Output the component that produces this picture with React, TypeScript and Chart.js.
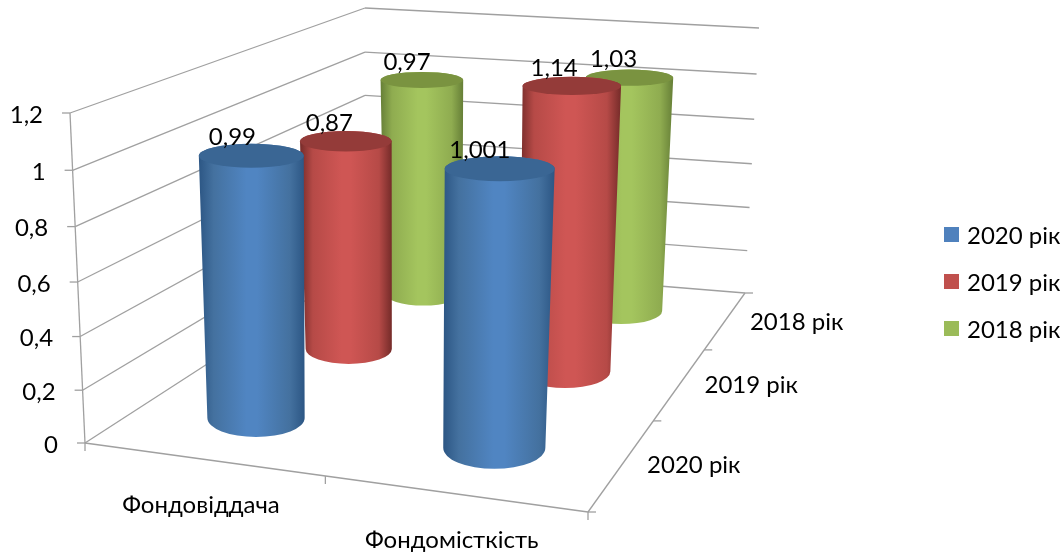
import React, { useEffect, useRef } from "react";
import { Chart, BarController, registerables } from "chart.js";

const categories = ["Фондовіддача", "Фондомісткість"];
const seriesNames = ["2020 рік", "2019 рік", "2018 рік"];
const values2020 = [0.99, 1.001];
const values2019 = [0.87, 1.14];
const values2018 = [0.97, 1.03];
const axisMax = 1.2;
const axisStep = 0.2;

type Pt = [number, number];
const FONT = "Lato, Carlito, 'Noto Sans', sans-serif";
const FS = 24;
const GRID = "#a0a0a0";
const palette = [
  { dark: "#2c5684", mid: "#44719f", light: "#5085c2", top: "#3a6694", legend: "#4f81bd" },
  { dark: "#752b29", mid: "#b64a47", light: "#cf5654", top: "#943b39", legend: "#c0504d" },
  { dark: "#667f37", mid: "#8fac50", light: "#a4c55e", top: "#7a9340", legend: "#9bbb59" },
];

function quad(p: Pt[]) {
  const [[x0, y0], [x1, y1], [x2, y2], [x3, y3]] = p;
  const sx = x0 - x1 + x2 - x3, sy = y0 - y1 + y2 - y3;
  const dx1 = x1 - x2, dx2 = x3 - x2, dy1 = y1 - y2, dy2 = y3 - y2;
  const det = dx1 * dy2 - dx2 * dy1;
  const g = (sx * dy2 - dx2 * sy) / det, h = (dx1 * sy - sx * dy1) / det;
  const a = x1 - x0 + g * x1, b = x3 - x0 + h * x3, d = y1 - y0 + g * y1, e = y3 - y0 + h * y3;
  return (u: number, v: number): Pt => {
    const w = g * u + h * v + 1;
    return [(a * u + b * v + x0) / w, (d * u + e * v + y0) / w];
  };
}
// room corners: front-left, front-right, back-right, back-left
const floor = quad([[85, 443], [588, 512], [745, 293], [365, 262]]);
const ceil = quad([[70, 113], [606, 141], [759, 28], [365, 8]]);
const project = (u: number, v: number, t: number): Pt => {
  const f = t / (t + 1.05 * (1 - t));
  const a = floor(u, v), b = ceil(u, v);
  return [a[0] + (b[0] - a[0]) * f, a[1] + (b[1] - a[1]) * f];
};
const RV = 0.078;
const depthOf = (i: number) => (i + 0.5) / 3;

function ring(u: number, v: number, ru: number, t: number) {
  let x0 = 1e9, x1 = -1e9, y0 = 1e9, y1 = -1e9;
  for (let i = 0; i < 48; i++) {
    const a = (i / 48) * Math.PI * 2;
    const p = project(u + ru * Math.cos(a), v + RV * Math.sin(a), t);
    x0 = Math.min(x0, p[0]); x1 = Math.max(x1, p[0]);
    y0 = Math.min(y0, p[1]); y1 = Math.max(y1, p[1]);
  }
  // cylinders stand a little more upright than the wall lines suggest
  const right = u - 0.25;
  const lean = 2 - t * (10 + 1.5 * right) + t * right * 2 * (8 * v - 3);
  const widen = 1 + 0.19 * t * right;
  return { cx: (x0 + x1) / 2 + lean, cy: (y0 + y1) / 2, sx: ((x1 - x0) / 2) * widen, sy: (y1 - y0) / 2 };
}

function cylinderGeom(chart: any, el: any, dsIndex: number) {
  const area = chart.chartArea;
  const u = (el.x - area.left) / area.width;
  const ru = el.width / 2 / area.width;
  const t = (el.base - el.y) / (el.base - area.top);
  const v = depthOf(dsIndex);
  return { bottom: ring(u, v, ru, 0), top: ring(u, v, ru, t) };
}

class CylinderController extends BarController {
  static id = "cylinder";
  static defaults = { ...BarController.defaults };
  static overrides = BarController.overrides;
  draw() {
    const chart: any = this.chart;
    const ctx = chart.ctx;
    const idx = this.index;
    const col = palette[idx];
    this.getMeta().data.forEach((el: any) => {
      const { bottom: b, top: t } = cylinderGeom(chart, el, idx);
      const g = ctx.createLinearGradient(Math.min(t.cx - t.sx, b.cx - b.sx), 0, Math.max(t.cx + t.sx, b.cx + b.sx), 0);
      g.addColorStop(0, col.dark);
      g.addColorStop(0.14, col.mid);
      g.addColorStop(0.45, col.light);
      g.addColorStop(0.55, col.light);
      g.addColorStop(0.86, col.mid);
      g.addColorStop(1, col.dark);
      ctx.save();
      ctx.beginPath();
      ctx.moveTo(t.cx - t.sx, t.cy);
      ctx.lineTo(b.cx - b.sx, b.cy);
      ctx.ellipse(b.cx, b.cy, b.sx, b.sy, 0, Math.PI, 0, true);
      ctx.lineTo(t.cx + t.sx, t.cy);
      ctx.ellipse(t.cx, t.cy, t.sx, t.sy, 0, 0, Math.PI, true);
      ctx.closePath();
      ctx.fillStyle = g;
      ctx.fill();
      ctx.beginPath();
      ctx.ellipse(t.cx, t.cy, t.sx, t.sy, 0, 0, Math.PI * 2);
      ctx.fillStyle = col.top;
      ctx.fill();
      ctx.restore();
    });
  }
}

Chart.register(...registerables, CylinderController);

const comma = (v: number) => String(v).replace(".", ",");

function seg(ctx: CanvasRenderingContext2D, a: Pt, b: Pt) {
  ctx.beginPath();
  ctx.moveTo(a[0], a[1]);
  ctx.lineTo(b[0], b[1]);
  ctx.stroke();
}

const room3d = {
  id: "room3d",
  beforeDatasetsDraw(chart: any) {
    const ctx = chart.ctx;
    const yS = chart.scales.y;
    ctx.save();
    ctx.strokeStyle = GRID;
    ctx.lineWidth = 1.3;
    yS.ticks.forEach((tk: any) => {
      const t = tk.value / axisMax;
      const fl = project(0, 0, t), bl = project(0, 1, t), br = project(1, 1, t);
      seg(ctx, fl, bl);
      seg(ctx, bl, br);
      seg(ctx, [fl[0] - 8, fl[1]], fl);
    });
    seg(ctx, project(0, 0, 0), project(0, 0, 1));
    seg(ctx, project(0, 0, 0), project(1, 0, 0));
    seg(ctx, project(1, 0, 0), project(1, 1, 0));
    [0, 0.51, 1].forEach((u) => {
      const p = project(u, 0, 0);
      seg(ctx, p, [p[0], p[1] + 8]);
    });
    [0, 1 / 3, 2 / 3, 1].forEach((v) => {
      const p = project(1, v, 0);
      seg(ctx, p, [p[0] + 8, p[1]]);
    });
    ctx.restore();
  },
  afterDatasetsDraw(chart: any) {
    const ctx = chart.ctx;
    const yS = chart.scales.y;
    ctx.save();
    ctx.fillStyle = "#000";
    ctx.font = `${FS}px ${FONT}`;
    ctx.textBaseline = "middle";
    ctx.textAlign = "right";
    yS.ticks.forEach((tk: any) => {
      const p = project(0, 0, tk.value / axisMax);
      ctx.fillText(tk.label, p[0] - 27, p[1] + 2);
    });
    ctx.textAlign = "center";
    chart.data.labels.forEach((lab: string, i: number) => {
      const p = project((i + 0.5) / 2, 0, 0);
      ctx.fillText(lab, p[0] + 2, p[1] + 47);
    });
    chart.data.datasets.forEach((ds: any, i: number) => {
      const p = project(1, depthOf(i), 0);
      ctx.fillText(ds.label, p[0] + 71, p[1] + 2);
    });
    chart.data.datasets.forEach((ds: any, i: number) => {
      chart.getDatasetMeta(i).data.forEach((el: any, j: number) => {
        const { top } = cylinderGeom(chart, el, i);
        ctx.fillText(comma(ds.data[j]), top.cx - top.sx * 0.36, top.cy - 18);
      });
    });
    ctx.textAlign = "left";
    const legendY = [235, 282, 329];
    chart.data.datasets.forEach((ds: any, i: number) => {
      ctx.fillStyle = palette[i].legend;
      ctx.fillRect(944, legendY[i] - 8, 15, 15);
      ctx.fillStyle = "#000";
      ctx.fillText(ds.label, 967, legendY[i] + 1);
    });
    ctx.restore();
  },
};

export default function App() {
  const ref = useRef<HTMLCanvasElement>(null);
  useEffect(() => {
    document.body.style.margin = "0";
    const mk = (label: string, data: number[]) => ({ label, data, grouped: false, barPercentage: 0.376, categoryPercentage: 1 });
    const chart = new Chart(ref.current!, {
      type: "cylinder" as any,
      data: {
        labels: categories,
        datasets: [mk(seriesNames[0], values2020), mk(seriesNames[1], values2019), mk(seriesNames[2], values2018)],
      },
      options: {
        animation: false,
        responsive: false,
        devicePixelRatio: 1,
        layout: { padding: 0 },
        plugins: { legend: { display: false }, tooltip: { enabled: false } },
        scales: {
          x: { type: "category", display: false, offset: true },
          y: {
            type: "linear",
            display: false,
            min: 0,
            max: axisMax,
            ticks: { stepSize: axisStep, callback: (v: any) => comma(Math.round(Number(v) * 10) / 10) },
          },
        },
      } as any,
      plugins: [room3d],
    });
    return () => chart.destroy();
  }, []);
  return <canvas ref={ref} width={1064} height={554} style={{ display: "block" }} />;
}
